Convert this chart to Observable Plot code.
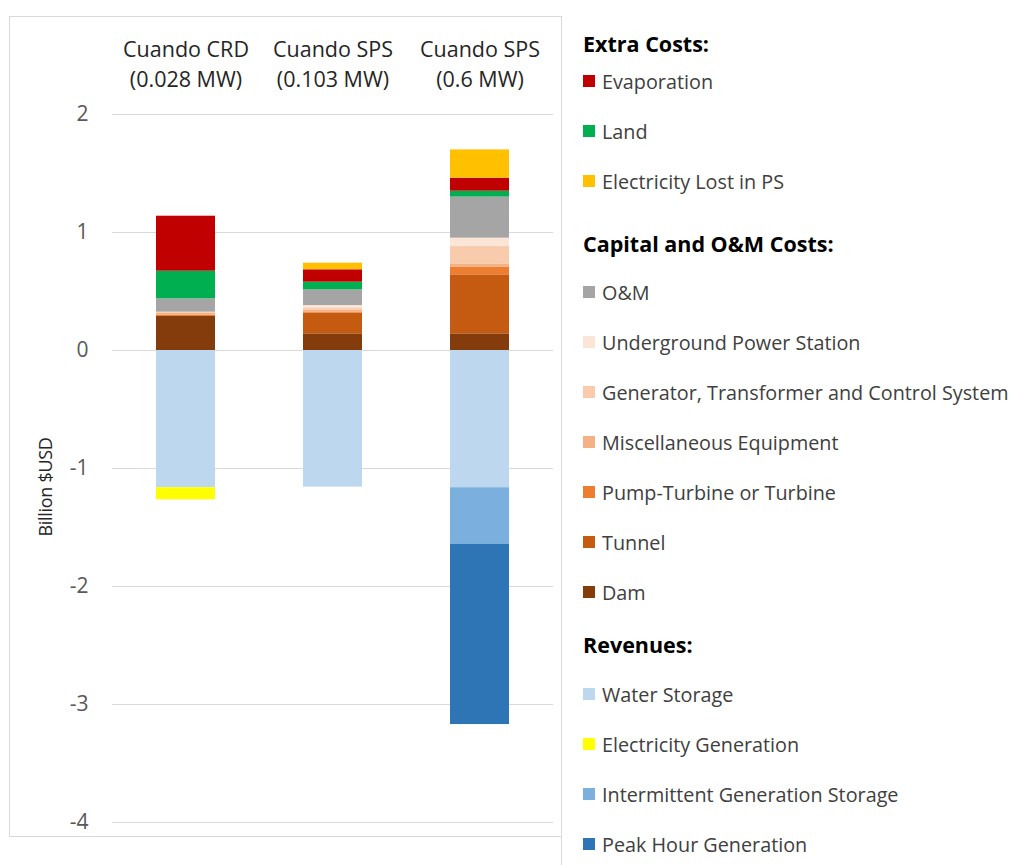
<!DOCTYPE html>
<html>
<head>
<meta charset="utf-8">
<script src="https://cdn.jsdelivr.net/npm/d3@7"></script>
<script src="https://cdn.jsdelivr.net/npm/@observablehq/plot@0.6"></script>
<style>
  html, body { margin: 0; padding: 0; background: #fff; }
  body { width: 1013px; height: 865px; position: relative; overflow: hidden; font-family: "Open Sans", "Noto Sans", sans-serif; }
  #frame { position: absolute; left: 9px; top: 16px; width: 553px; height: 821px; border: 1px solid #d9d9d9; box-sizing: border-box; }
  #frame2 { position: absolute; left: 561px; top: 837px; width: 1px; height: 28px; background: #d9d9d9; }
  #chart { position: absolute; left: 0; top: 0; }
  #ylabel { position: absolute; left: 45px; top: 487px; transform: translate(-50%, -50%) rotate(-90deg); font-size: 18px; color: #262626; white-space: nowrap; letter-spacing: -0.3px; }
  #legend { position: absolute; left: 583px; top: 0; }
  .grp-head { height: 24px; line-height: 24px; font-weight: bold; font-size: 21.5px; color: #000; white-space: nowrap; }
  .item { height: 50px; display: flex; align-items: center; font-size: 19.8px; color: #404040; white-space: nowrap; }
  .sw { width: 12px; height: 12px; margin-right: 7px; flex: none; }
</style>
</head>
<body>
<div id="frame"></div>
<div id="frame2"></div>
<div id="chart"></div>
<div id="ylabel">Billion $USD</div>
<div id="legend"></div>
<script>
// ---- Data ----
const categories = ["Cuando CRD\n(0.028 MW)", "Cuando SPS\n(0.103 MW)", "Cuando SPS\n(0.6 MW)"];
const yTicks = [2, 1, 0, -1, -2, -3, -4];

// values per category (billion USD), order: CRD, SPS 0.103, SPS 0.6
const dam            = [0.288, 0.141, 0.141];
const tunnel         = [0.000, 0.175, 0.500];
const pumpTurbine    = [0.012, 0.010, 0.063];
const miscEquipment  = [0.015, 0.015, 0.030];
const generator      = [0.010, 0.020, 0.147];
const underground    = [0.000, 0.020, 0.071];
const om             = [0.113, 0.133, 0.348];
const land           = [0.234, 0.065, 0.050];
const evaporation    = [0.466, 0.105, 0.110];
const electricityLost= [0.000, 0.056, 0.240];
const waterStorage   = [-1.163, -1.158, -1.163];
const electricityGen = [-0.102, 0.000, 0.000];
const intermittent   = [0.000, 0.000, -0.481];
const peakHour       = [0.000, 0.000, -1.526];

// stacking order (bottom-up for positives, top-down for negatives)
const seriesNames = [
  "Dam", "Tunnel", "Pump-Turbine or Turbine", "Miscellaneous Equipment",
  "Generator, Transformer and Control System", "Underground Power Station",
  "O&M", "Land", "Evaporation", "Electricity Lost in PS",
  "Water Storage", "Electricity Generation", "Intermittent Generation Storage", "Peak Hour Generation"
];
const seriesValues = [
  dam, tunnel, pumpTurbine, miscEquipment, generator, underground,
  om, land, evaporation, electricityLost,
  waterStorage, electricityGen, intermittent, peakHour
];
const seriesColors = [
  "#843C0C", "#C55A11", "#ED7D31", "#F4B183", "#F8CBAD", "#FBE5D6",
  "#A5A5A5", "#00B050", "#C00000", "#FFC000",
  "#BDD7EE", "#FFFF00", "#7BAFDE", "#2E75B6"
];

// legend groups
const legendGroups = [
  {title: "Extra Costs:", items: ["Evaporation", "Land", "Electricity Lost in PS"]},
  {title: "Capital and O&M Costs:", items: ["O&M", "Underground Power Station", "Generator, Transformer and Control System", "Miscellaneous Equipment", "Pump-Turbine or Turbine", "Tunnel", "Dam"]},
  {title: "Revenues:", items: ["Water Storage", "Electricity Generation", "Intermittent Generation Storage", "Peak Hour Generation"]}
];

// ---- Build table ----
const rows = [];
seriesNames.forEach((s, i) => {
  categories.forEach((c, j) => {
    rows.push({category: c, series: s, value: seriesValues[i][j]});
  });
});

const chart = Plot.plot({
  width: 562,
  height: 837,
  marginLeft: 112,
  marginRight: 9,
  marginTop: 114,
  marginBottom: 15,
  style: {fontFamily: "'Open Sans', 'Noto Sans', sans-serif", background: "transparent", overflow: "visible"},
  x: {domain: categories, paddingInner: 0.6, paddingOuter: 0.295, axis: null},
  y: {domain: [-4, 2], axis: null},
  color: {domain: seriesNames, range: seriesColors},
  marks: [
    Plot.gridY(yTicks, {stroke: "#d9d9d9", strokeOpacity: 1, strokeWidth: 1}),
    Plot.axisY(yTicks, {tickSize: 0, tickPadding: 24, fontSize: 21, fill: "#595959", label: null, tickFormat: d => String(d)}),
    Plot.barY(rows, {x: "category", y: "value", fill: "series", order: seriesNames}),
    Plot.text(categories, {x: d => d, text: d => d, frameAnchor: "top", lineAnchor: "top", dy: -79, fontSize: 21.5, lineHeight: 1.4, fill: "#262626"})
  ]
});
document.getElementById("chart").appendChild(chart);

// ---- Legend ----
const colorOf = Object.fromEntries(seriesNames.map((s, i) => [s, seriesColors[i]]));
const legend = document.getElementById("legend");
const groupMargins = [[32, 0], [26, 11], [16, 12]];
legendGroups.forEach((g, gi) => {
  const h = document.createElement("div");
  h.className = "grp-head";
  h.style.marginTop = groupMargins[gi][0] + "px";
  h.style.marginBottom = groupMargins[gi][1] + "px";
  h.textContent = g.title;
  legend.appendChild(h);
  g.items.forEach(name => {
    const it = document.createElement("div");
    it.className = "item";
    const sw = document.createElement("span");
    sw.className = "sw";
    sw.style.background = colorOf[name];
    const tx = document.createElement("span");
    tx.textContent = name;
    it.appendChild(sw);
    it.appendChild(tx);
    legend.appendChild(it);
  });
});
</script>
</body>
</html>
